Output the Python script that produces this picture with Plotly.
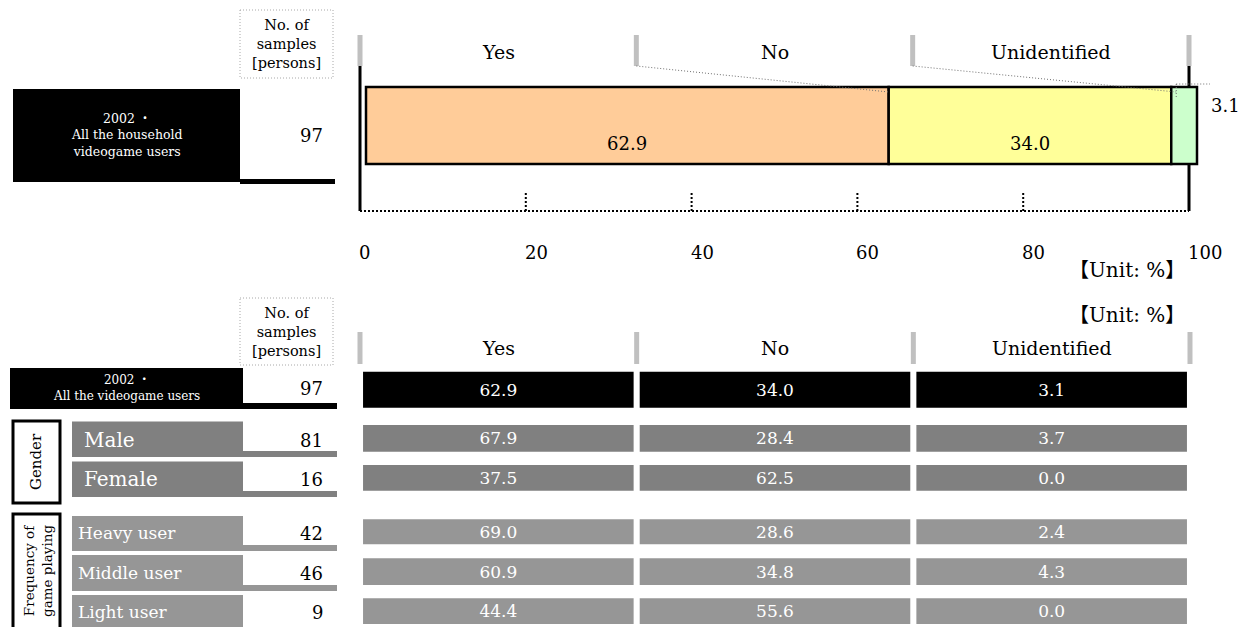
import plotly.graph_objects as go

# ---------------- data ----------------
answers = ["Yes", "No", "Unidentified"]
overall_name = "2002 ・<br>All the household<br>videogame users"
overall_n = 97
overall_share = [62.9, 34.0, 3.1]
pct_ticks = [0, 20, 40, 60, 80, 100]

row_names = ["2002 ・<br>All the videogame users", "Male", "Female",
             "Heavy user", "Middle user", "Light user"]
row_samples = [97, 81, 16, 42, 46, 9]
yes_share = [62.9, 67.9, 37.5, 69.0, 60.9, 44.4]
no_share = [34.0, 28.4, 62.5, 28.6, 34.8, 55.6]
unidentified_share = [3.1, 3.7, 0.0, 2.4, 4.3, 0.0]
group_names = ["Gender", "Frequency of<br>game playing"]

# ---------------- page geometry (pixels) ----------------
W, H = 1248, 627
FONT = "DejaVu Serif, Noto Sans CJK JP, serif"
HEADER_GREY = "#c0c0c0"

BAR_L, BAR_R = 366, 1197          # 0 .. 100 % of the stacked bar
BAR_MID, BAR_THICK = 125.5, 77
FRAME_L, FRAME_R = 360, 1189      # 0 .. 100 % of the scale frame
TABLE_L, TABLE_R = 360, 1190      # three answer columns of the table

ROW_MID = [389.7, 438.3, 477.8, 531.8, 571.6, 611.2]
ROW_THICK = [36, 26.7, 25.7, 25, 26.7, 25.7]
LABEL_TOP = [368, 421.5, 461.5, 516, 555, 595]
LABEL_BOT = [409, 457, 497, 551, 591, 633]
LABEL_LEFT = [10, 72, 72, 72, 72, 72]
ROW_COLORS = ["#000000", "#808080", "#808080", "#969696", "#969696", "#969696"]
LABEL_SIZE = [12, 20, 20, 17, 17, 17]
LABEL_TEXT_Y = [388, 440, 479, 533, 573, 612]
CELL_GAP, CELL_W = 0.011, 0.978


def span(px_lo, px_hi, v_lo, v_hi, pad):
    """Axis domain/range so that v_lo..v_hi lands on px_lo..px_hi, with padding."""
    k = (px_hi - px_lo) / (v_hi - v_lo)
    return ([(px_lo - pad * k) / W, (px_hi + pad * k) / W], [v_lo - pad, v_hi + pad])


def bar_px(v):
    return BAR_L + v * (BAR_R - BAR_L) / 100


def frame_px(v):
    return FRAME_L + v * (FRAME_R - FRAME_L) / 100


def segments(pairs_x, pairs_y, axis, color, width, dash="solid"):
    xs, ys = [], []
    for (x0, x1), (y0, y1) in zip(pairs_x, pairs_y):
        xs += [x0, x1, None]
        ys += [y0, y1, None]
    return go.Scatter(x=xs, y=ys, xaxis=axis, yaxis="y", mode="lines",
                      line=dict(color=color, width=width, dash=dash),
                      hoverinfo="skip", showlegend=False)


fig = go.Figure()

# anchor trace for the pixel grid used by boxes and labels
fig.add_trace(go.Scatter(x=[0, W], y=[0, H], mode="markers",
                         marker=dict(opacity=0), hoverinfo="skip", showlegend=False))

# ---------------- upper panel: stacked percentage bar ----------------
top_colors = ["#FFCC99", "#FFFF99", "#CCFFCC"]
starts = []
acc = 0.0
for share in overall_share:
    starts.append(acc)
    acc += share
for name, share, start, color in zip(answers, overall_share, starts, top_colors):
    fig.add_trace(go.Bar(orientation="h", x=[share], base=[start], y=[BAR_MID],
                         width=[BAR_THICK], xaxis="x2", yaxis="y", name=name,
                         marker=dict(color=color, line=dict(color="black", width=2.5)),
                         hoverinfo="skip", showlegend=False))

annotations = []
for share, start in zip(overall_share, starts):
    if share >= 10:
        annotations.append(dict(x=start + share / 2, y=143, xref="x2", yref="y",
                                text=f"{share:.1f}", showarrow=False,
                                font=dict(size=18, color="black", family=FONT)))
    else:
        annotations.append(dict(x=100, y=105, xref="x2", yref="y", xanchor="left",
                                xshift=12, text=f"{share:.1f}", showarrow=False,
                                font=dict(size=18, color="black", family=FONT)))

# scale frame
thirds = [0, 100 / 3, 200 / 3, 100]
fig.add_trace(segments([(t, t) for t in thirds], [(35, 66)] * 4, "x3", HEADER_GREY, 5))
fig.add_trace(segments([(0, 0), (100, 100), (100, 100)], [(66, 211), (66, 87), (164, 211)],
                       "x3", "black", 3))
fig.add_trace(segments([(0, 100)] + [(t, t) for t in pct_ticks[1:-1]],
                       [(211, 211)] + [(193, 211)] * (len(pct_ticks) - 2),
                       "x3", "black", 2, dash="2px,2px"))

for t in pct_ticks:
    annotations.append(dict(x=t, y=252, xref="x3", yref="y", xanchor="left", xshift=-3,
                            text=str(t), showarrow=False,
                            font=dict(size=18, color="black", family=FONT)))
for name, lo, hi in zip(answers, thirds[:-1], thirds[1:]):
    annotations.append(dict(x=(lo + hi) / 2, y=52, xref="x3", yref="y", text=name,
                            showarrow=False, font=dict(size=19, color="black", family=FONT)))

shapes = []
# leader lines from the header marks to the segment boundaries
leader = dict(type="line", xref="x", yref="y", layer="above",
              line=dict(color="#707070", width=1, dash="1px,2px"))
shapes.append(dict(leader, x0=frame_px(100 / 3), y0=66, x1=bar_px(starts[1]), y1=92))
shapes.append(dict(leader, x0=frame_px(200 / 3), y0=66, x1=bar_px(starts[2]) + 5, y1=92))
shapes.append(dict(leader, x0=bar_px(starts[2]) + 5, y0=84, x1=bar_px(100) + 13, y1=84))
shapes.append(dict(leader, x0=bar_px(starts[2]) + 5, y0=84, x1=bar_px(starts[2]) + 5, y1=98))

# sample-size header boxes
for top, bot in [(10, 78), (298, 365)]:
    shapes.append(dict(type="rect", xref="x", yref="y", x0=240, x1=333, y0=top, y1=bot,
                       line=dict(color="#a8a8a8", width=1, dash="1px,2px")))
    annotations.append(dict(x=286.5, y=(top + bot) / 2, xref="x", yref="y",
                            text="No. of<br>samples<br>[persons]", showarrow=False,
                            font=dict(size=14.5, color="black", family=FONT)))

# overall row of the upper panel
shapes.append(dict(type="rect", xref="x", yref="y", x0=13, x1=240, y0=89, y1=182,
                   fillcolor="black", line_width=0))
shapes.append(dict(type="rect", xref="x", yref="y", x0=240, x1=335, y0=179, y1=184,
                   fillcolor="black", line_width=0))
annotations.append(dict(x=126.5, y=135, xref="x", yref="y", text=overall_name,
                        showarrow=False, font=dict(size=12.5, color="white", family=FONT)))
annotations.append(dict(x=325, y=135, xref="x", yref="y", xanchor="right",
                        text=str(overall_n), showarrow=False,
                        font=dict(size=18, color="black", family=FONT)))

for y in (270, 315):
    annotations.append(dict(x=1187, y=y, xref="x", yref="y", xanchor="right",
                            text="【Unit: %】", showarrow=False,
                            font=dict(size=20, color="black", family=FONT)))

# ---------------- lower panel: breakdown table ----------------
fig.add_trace(segments([(c, c) for c in range(4)], [(332, 364)] * 4, "x4", HEADER_GREY, 5))
for c, name in enumerate(answers):
    annotations.append(dict(x=c + 0.5, y=348, xref="x4", yref="y", text=name,
                            showarrow=False, font=dict(size=19, color="black", family=FONT)))

n_rows = len(row_names)
for c, shares in enumerate([yes_share, no_share, unidentified_share]):
    fig.add_trace(go.Bar(orientation="h", y=ROW_MID, width=ROW_THICK,
                         x=[CELL_W] * n_rows, base=[c + CELL_GAP] * n_rows,
                         xaxis="x4", yaxis="y", name=answers[c],
                         marker=dict(color=ROW_COLORS, line_width=0),
                         text=[f"{v:.1f}" for v in shares], textposition="inside",
                         insidetextanchor="middle", constraintext="none",
                         textfont=dict(color="white", size=17, family=FONT),
                         hoverinfo="skip", showlegend=False))

for i, (name, n) in enumerate(zip(row_names, row_samples)):
    col = ROW_COLORS[i]
    shapes.append(dict(type="rect", xref="x", yref="y", x0=LABEL_LEFT[i], x1=243,
                       y0=LABEL_TOP[i], y1=LABEL_BOT[i], fillcolor=col, line_width=0))
    shapes.append(dict(type="rect", xref="x", yref="y", x0=243, x1=337,
                       y0=LABEL_BOT[i] - 6, y1=LABEL_BOT[i], fillcolor=col, line_width=0))
    if i == 0:
        annotations.append(dict(x=(LABEL_LEFT[i] + 243) / 2, y=LABEL_TEXT_Y[i], xref="x",
                                yref="y", text=name, showarrow=False,
                                font=dict(size=LABEL_SIZE[i], color="white", family=FONT)))
    else:
        annotations.append(dict(x=LABEL_LEFT[i] + (10 if i < 3 else 4), y=LABEL_TEXT_Y[i],
                                xref="x", yref="y", xanchor="left", text=name,
                                showarrow=False,
                                font=dict(size=LABEL_SIZE[i], color="white", family=FONT)))
    annotations.append(dict(x=325, y=LABEL_TEXT_Y[i], xref="x", yref="y", xanchor="right",
                            text=str(n), showarrow=False,
                            font=dict(size=18, color="black", family=FONT)))

# group brackets
for name, (top, bot), size, cx in zip(group_names, [(421, 503), (514, 650)],
                                      [15, 13.5], [36, 38]):
    shapes.append(dict(type="rect", xref="x", yref="y", x0=13, x1=60, y0=top, y1=bot,
                       fillcolor="white", line=dict(color="black", width=3)))
    annotations.append(dict(x=cx, y=(top + bot) / 2 if bot < H else 571,
                            xref="x", yref="y", text=name, textangle=-90, showarrow=False,
                            font=dict(size=size, color="black", family=FONT)))

# ---------------- axes & layout ----------------
d2, r2 = span(BAR_L, BAR_R, 0, 100, 1.0)
d3, r3 = span(FRAME_L, FRAME_R, 0, 100, 2.0)
d4, r4 = span(TABLE_L, TABLE_R, 0, 3, 0.05)
hidden = dict(visible=False, fixedrange=True, showgrid=False, zeroline=False)

fig.update_layout(
    width=W, height=H, autosize=False,
    margin=dict(l=0, r=0, t=0, b=0, pad=0),
    paper_bgcolor="white", plot_bgcolor="rgba(0,0,0,0)",
    barmode="overlay", showlegend=False,
    font=dict(family=FONT, color="black"),
    xaxis=dict(hidden, domain=[0, 1], range=[0, W]),
    yaxis=dict(hidden, domain=[0, 1], range=[H, 0]),
    xaxis2=dict(hidden, domain=d2, range=r2, anchor="y"),
    xaxis3=dict(hidden, domain=d3, range=r3, anchor="y"),
    xaxis4=dict(hidden, domain=d4, range=r4, anchor="y"),
    shapes=shapes,
    annotations=annotations,
)

fig.write_html("out.html", config={"displayModeBar": False})
